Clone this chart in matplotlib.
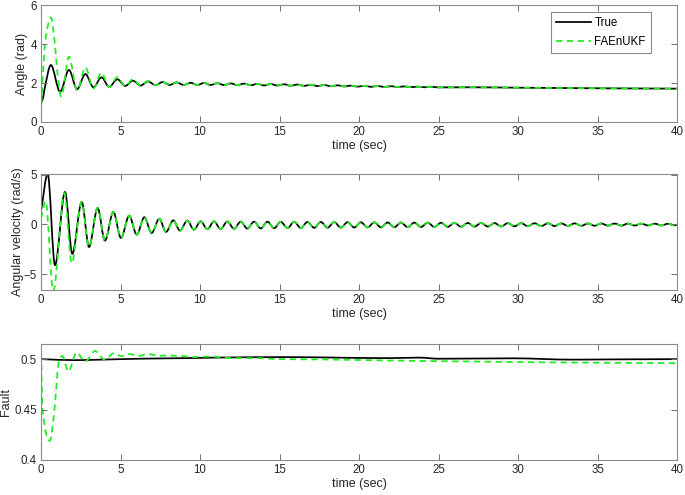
import numpy as np
import matplotlib
matplotlib.use("Agg")
import matplotlib.pyplot as plt
from matplotlib.path import Path
from matplotlib.patches import PathPatch
from matplotlib.lines import Line2D

plt.rcParams['font.family'] = ['Liberation Sans', 'DejaVu Sans']

# ---------------- data ----------------
# Angle (rad), True: extremes
ang_true_t = [0, 0.1, 0.25, 0.62, 1.2, 1.76, 2.27, 2.79, 3.3, 3.8, 4.29, 4.8, 5.3, 5.78,
              6.26, 6.73, 7.2, 7.65, 8.09, 8.53, 8.97, 9.41, 9.83,
              10.25, 10.67, 11.09, 11.51, 11.93, 12.35, 12.77, 13.19, 13.61, 14.03,
              14.45, 14.87, 15.29, 15.71, 16.13, 16.55, 16.97, 17.39, 17.81, 18.23,
              18.65, 19.07, 19.49, 19.91, 20.33, 20.75, 21.17, 21.59, 22.01, 22.43,
              22.85, 23.27, 23.69, 24.11, 24.53, 24.95, 27.0, 30.0, 35.0, 40.0]
ang_true_v = [1.0, 1.15, 1.8, 2.92, 1.55, 2.67, 1.68, 2.46, 1.78, 2.29, 1.8, 2.19, 1.85, 2.12,
              1.87, 2.08, 1.89, 2.05, 1.9, 2.03, 1.9, 2.01, 1.9,
              2.0, 1.9, 1.99, 1.895, 1.98, 1.89, 1.97, 1.885, 1.955, 1.875,
              1.945, 1.87, 1.935, 1.86, 1.92, 1.855, 1.91, 1.845, 1.895, 1.835,
              1.88, 1.825, 1.865, 1.815, 1.855, 1.805, 1.845, 1.8, 1.835, 1.795,
              1.825, 1.785, 1.815, 1.78, 1.81, 1.775, 1.78, 1.76, 1.73, 1.71]
# Angle, FAEnUKF: early part (later it follows the true curve)
ang_est_t = [0, 0.06, 0.25, 0.45, 0.62, 1.27, 1.76, 2.27, 2.79, 3.3, 3.8, 4.29, 4.8, 5.3,
             5.78, 6.26, 6.73]
ang_est_v = [0.35, 1.5, 4.0, 5.0, 5.37, 1.3, 3.35, 1.62, 2.8, 1.72, 2.53, 1.78, 2.3, 1.84,
             2.2, 1.87, 2.1]

# Angular velocity (rad/s), True: early extremes
vel_true_t = [0, 0.42, 0.88, 1.51, 1.97, 2.56, 3.02, 3.56, 4.02, 4.55, 5.03, 5.55, 6.02,
              6.5, 6.96, 7.44, 7.86, 8.32, 8.74, 9.2, 9.62]
vel_true_v = [1.3, 5.1, -4.1, 3.27, -2.97, 2.27, -2.27, 1.66, -1.63, 1.26, -1.36, 0.89, -1.03,
              0.73, -0.86, 0.58, -0.76, 0.42, -0.62, 0.38, -0.52]
# later peaks / troughs
vel_peak_t = [10.04, 10.88, 11.72, 12.56, 13.40, 14.24, 15.08, 15.92, 16.76, 17.60, 18.44,
              19.28, 20.12, 20.96, 21.80, 22.64, 23.48, 24.32, 25.16, 26.00, 26.84, 27.68,
              28.52, 29.36, 30.20, 31.04, 31.88, 32.72, 33.56, 34.40, 35.24, 36.08, 36.92,
              37.76, 38.60, 39.44]
vel_peak_v = [0.32, 0.31, 0.30, 0.29, 0.28, 0.28, 0.27, 0.26, 0.25, 0.25, 0.24, 0.23, 0.22,
              0.21, 0.2, 0.19, 0.18, 0.18, 0.17, 0.16, 0.15, 0.15, 0.14, 0.13, 0.13, 0.12,
              0.12, 0.11, 0.11, 0.1, 0.1, 0.09, 0.09, 0.08, 0.08, 0.07]
vel_trough_t = [10.46, 11.30, 12.14, 12.98, 13.82, 14.66, 15.50, 16.34, 17.18, 18.02, 18.86,
                19.70, 20.54, 21.38, 22.22, 23.06, 23.90, 24.74, 25.58, 26.42, 27.26, 28.10,
                28.94, 29.78, 30.62, 31.46, 32.30, 33.14, 33.98, 34.82, 35.66, 36.50, 37.34,
                38.18, 39.02, 39.86]
vel_trough_v = [-0.48, -0.46, -0.44, -0.42, -0.40, -0.38, -0.37, -0.36, -0.34, -0.33, -0.32,
                -0.31, -0.3, -0.29, -0.28, -0.27, -0.26, -0.25, -0.24, -0.23, -0.22, -0.21,
                -0.2, -0.19, -0.18, -0.17, -0.16, -0.15, -0.14, -0.13, -0.12, -0.12, -0.11,
                -0.1, -0.1, -0.09]
vel_end_t = [40.0]
vel_end_v = [0.0]
# Angular velocity, FAEnUKF: early part
vel_est_t = [0, 0.29, 0.77, 1.47, 1.93, 2.56, 2.98]
vel_est_v = [0.6, 2.35, -6.7, 3.17, -3.9, 2.27, -2.2]

# Fault
fault_true_t = [0, 2.1, 3.8, 6.5, 9.2, 11, 15, 17.2, 19.4, 21.9, 23.8, 25.0, 29.7, 33.4, 35.5, 40]
fault_true_v = [0.5, 0.499, 0.4995, 0.5005, 0.501, 0.5015, 0.502, 0.5018, 0.5013, 0.501,
                0.5015, 0.5004, 0.5008, 0.4995, 0.4997, 0.5]
fault_est_t = [0, 0.08, 0.55, 0.88, 1.03, 1.15, 1.35, 1.72, 2.24, 2.77, 3.4, 4.0, 4.6, 5.05,
               5.6, 6.1, 6.7, 7.4, 8.3, 8.96, 9.5, 10.6, 12, 13.6, 15, 17, 19.4, 21.9, 27.2,
               32.4, 40]
fault_est_v = [0.516, 0.453, 0.419, 0.455, 0.486, 0.5, 0.503, 0.4877, 0.5066, 0.4976, 0.508,
               0.4995, 0.506, 0.503, 0.505, 0.503, 0.505, 0.5035, 0.5035, 0.503, 0.502,
               0.5026, 0.501, 0.501, 0.5, 0.4998, 0.4993, 0.4986, 0.4976, 0.4967, 0.496]

labels = ["True", "FAEnUKF"]

# ---------------- assemble series ----------------
vt = np.concatenate([vel_true_t, vel_peak_t, vel_trough_t, vel_end_t])
vv = np.concatenate([vel_true_v, vel_peak_v, vel_trough_v, vel_end_v])
order = np.argsort(vt)
vt, vv = vt[order], vv[order]

at = np.array(ang_true_t, float); av = np.array(ang_true_v, float)
m = at > ang_est_t[-1]
aet = np.concatenate([ang_est_t, at[m]]); aev = np.concatenate([ang_est_v, av[m]])
m2 = vt > vel_est_t[-1]
vet = np.concatenate([vel_est_t, vt[m2]]); vev = np.concatenate([vel_est_v, vv[m2]])


def smooth_path(t, v):
    """Path through the read points drawn as cubic Bezier segments
    (flat at turning points, monotone elsewhere)."""
    t = np.asarray(t, float); v = np.asarray(v, float)
    h = np.diff(t); d = np.diff(v) / h
    s = np.zeros_like(v)
    s[0], s[-1] = d[0], d[-1]
    for i in range(1, len(v) - 1):
        if d[i - 1] * d[i] > 0:
            w1 = 2 * h[i] + h[i - 1]; w2 = h[i] + 2 * h[i - 1]
            s[i] = (w1 + w2) / (w1 / d[i - 1] + w2 / d[i])
    verts = [(t[0], v[0])]; codes = [Path.MOVETO]
    for i in range(len(h)):
        verts += [(t[i] + h[i] / 3, v[i] + s[i] * h[i] / 3),
                  (t[i + 1] - h[i] / 3, v[i + 1] - s[i + 1] * h[i] / 3),
                  (t[i + 1], v[i + 1])]
        codes += [Path.CURVE4] * 3
    return Path(verts, codes)


# ---------------- figure ----------------
fig = plt.figure(figsize=(6.85, 4.95), dpi=100)
W, H = 685, 495
def ax_at(x0, y0, x1, y1):
    return fig.add_axes([x0 / W, 1 - y1 / H, (x1 - x0) / W, (y1 - y0) / H])

ax1 = ax_at(41, 5, 677, 122)
ax2 = ax_at(41, 174, 677, 290)
ax3 = ax_at(41, 344, 677, 460)

green = '#22ee22'
lw_k = 1.25
lw_g = 1.3
dash = (0, (3.5, 2.5))

def draw(ax, t, v, color, lw, ls):
    ax.add_patch(PathPatch(smooth_path(t, v), fill=False, edgecolor=color, lw=lw,
                           linestyle=ls, capstyle='butt', joinstyle='round'))

draw(ax1, at, av, 'k', lw_k, '-')
draw(ax1, aet, aev, green, lw_g, dash)
draw(ax2, vt, vv, 'k', lw_k, '-')
draw(ax2, vet, vev, green, lw_g, dash)
draw(ax3, fault_true_t, fault_true_v, 'k', lw_k, '-')
draw(ax3, fault_est_t, fault_est_v, green, lw_g, dash)

ax1.set_ylim(0, 6); ax1.set_yticks([0, 2, 4, 6])
ax2.set_ylim(-6.6, 5.08); ax2.set_yticks([-5, 0, 5])
ax3.set_ylim(0.4, 0.515); ax3.set_yticks([0.4, 0.45, 0.5])
ax3.set_yticklabels(['0.4', '0.45', '0.5'])

ax1.set_ylabel('Angle (rad)', fontsize=9, color='#262626', va='center')
ax2.set_ylabel('Angular velocity (rad/s)', fontsize=9, color='#262626', va='center')
ax3.set_ylabel('Fault', fontsize=9, color='#262626', va='center')
ax1.yaxis.set_label_coords((21.5 - 41) / 636, 0.5)
ax2.yaxis.set_label_coords((18 - 41) / 636, 0.5)
ax3.yaxis.set_label_coords((6.5 - 41) / 636, 0.5)

for ax in (ax1, ax2, ax3):
    ax.set_xlim(0, 40)
    ax.set_xticks(range(0, 41, 5))
    ax.set_xlabel('time (sec)', fontsize=9, color='#262626', labelpad=1)
    ax.tick_params(direction='in', top=True, right=True, length=4, width=0.7,
                   colors='#6e6e6e', labelcolor='#262626', labelsize=8.3, pad=3)
    for s in ax.spines.values():
        s.set_color('#8a8a8a')
        s.set_linewidth(0.8)

handles = [Line2D([], [], color='k', lw=lw_k),
           Line2D([], [], color=green, lw=lw_g, ls=dash)]
leg = ax1.legend(handles, labels, loc='upper right', bbox_to_anchor=(0.959, 0.938),
                 borderaxespad=0, fontsize=8.3, frameon=True, fancybox=False,
                 framealpha=1, edgecolor='#8a8a8a', handlelength=3.0,
                 handletextpad=0.3, borderpad=0.45, labelspacing=0.55)
leg.get_frame().set_linewidth(0.8)

fig.savefig('out.png', dpi=100)
